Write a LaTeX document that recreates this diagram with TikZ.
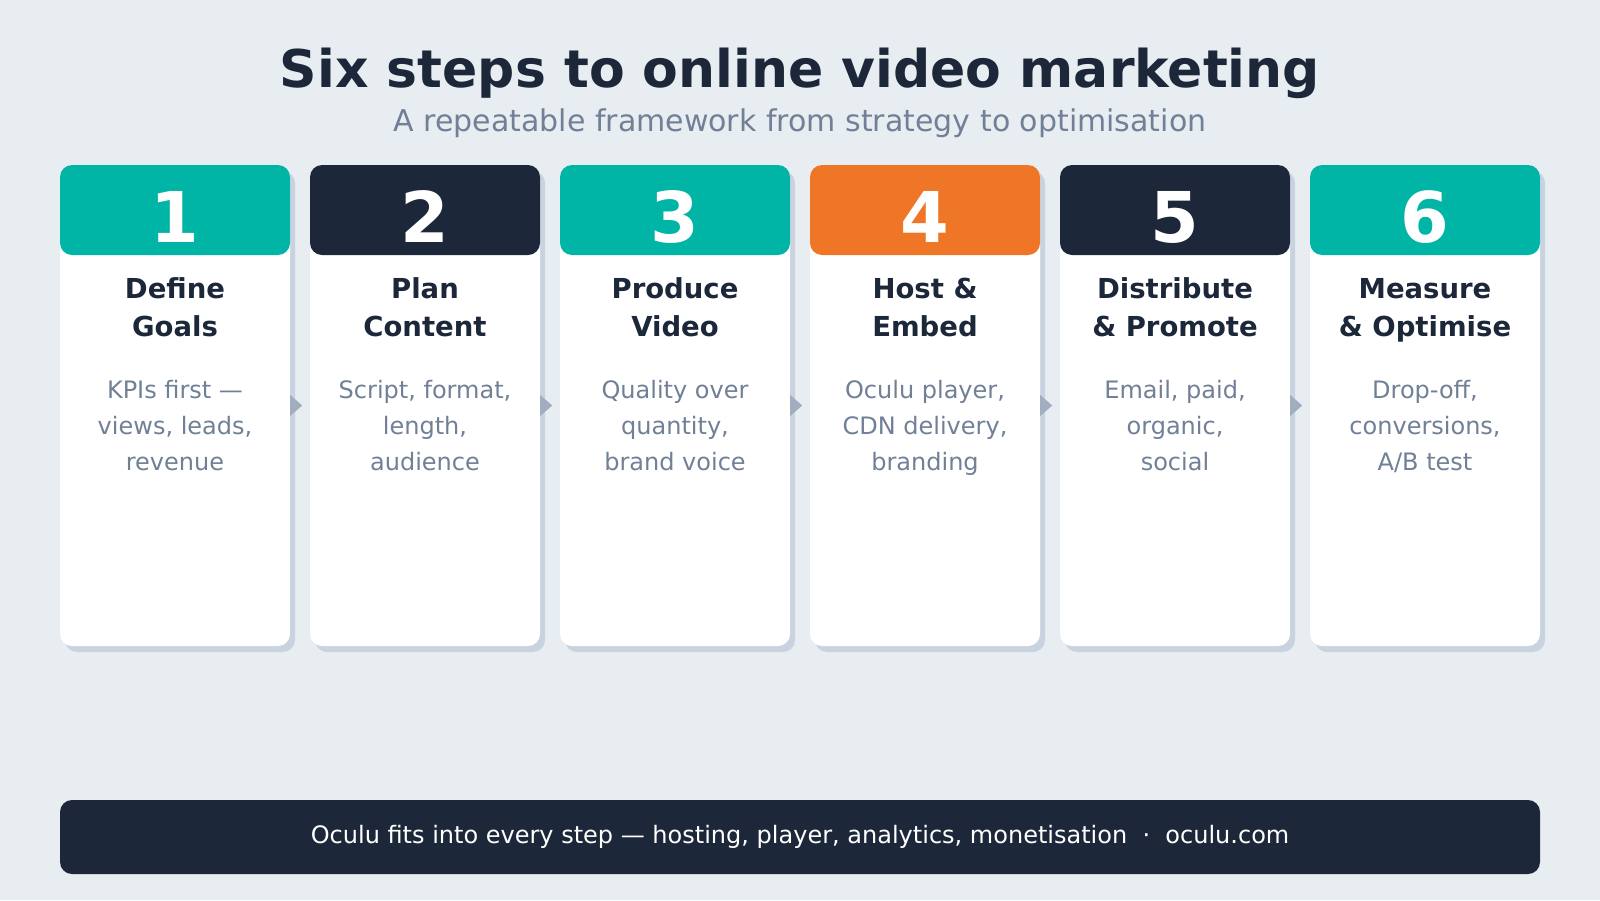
\documentclass[tikz,border=0pt]{standalone}
\usepackage{fontspec}
\setmainfont{DejaVu Sans}
\usetikzlibrary{calc}
\definecolor{bgc}{HTML}{E8EDF2}
\definecolor{navy}{HTML}{1C2839}
\definecolor{tealc}{HTML}{00B5A5}
\definecolor{orangec}{HTML}{F07627}
\definecolor{shadowc}{HTML}{C9D3DF}
\definecolor{descc}{HTML}{718096}
\definecolor{arrowc}{HTML}{A0AEC0}
\tikzset{
  shadowbox/.style={fill=shadowc, rounded corners=12pt, minimum width=230pt, minimum height=481pt, inner sep=0pt, draw=none},
  card/.style={fill=white, rounded corners=12pt, minimum width=230pt, minimum height=481pt, inner sep=0pt, draw=none},
  head/.style={rounded corners=12pt, minimum width=230pt, minimum height=90pt, inner sep=0pt, draw=none},
  numtxt/.style={anchor=base, inner sep=0pt, text=white, font=\fontsize{70}{80}\selectfont\bfseries},
  ttl/.style={anchor=base, inner sep=0pt, text=navy, font=\fontsize{27.5}{32}\selectfont\bfseries},
  dsc/.style={anchor=base, inner sep=0pt, text=descc, font=\fontsize{24}{28}\selectfont},
  flowtri/.style={fill=arrowc},
}
\newcommand\stepcard[8]{%
  \node[shadowbox] (sh#1) at (#2+5,411.5) {};
  \node[card] (card#1) at (#2,405.5) {};
  \node[head, fill=#3] (head#1) at (#2,210) {};
  \node[numtxt] (num#1) at (#2,242) {#1};
  \node[ttl] (ta#1) at (#2,298.5) {#4};
  \node[ttl] (tb#1) at (#2,336.5) {#5};
  \node[dsc] (da#1) at (#2,398) {#6};
  \node[dsc] (db#1) at (#2,434) {#7};
  \node[dsc] (dc#1) at (#2,470) {#8};
}
\begin{document}
\begin{tikzpicture}[x=1pt,y=-1pt]
\useasboundingbox (0,0) rectangle (1600,900);
\fill[bgc] (0,0) rectangle (1600,900);
\node[anchor=base, inner sep=0pt, text=navy, font=\fontsize{52}{60}\selectfont\bfseries] (title) at (800,87) {Six steps to online video marketing};
\node[anchor=base, inner sep=0pt, text=descc, font=\fontsize{30}{34}\selectfont] (subtitle) at (800,131) {A repeatable framework from strategy to optimisation};
\stepcard{1}{175}{tealc}{Define}{Goals}{KPIs first —}{views, leads,}{revenue}
\stepcard{2}{425}{navy}{Plan}{Content}{Script, format,}{length,}{audience}
\stepcard{3}{675}{tealc}{Produce}{Video}{Quality over}{quantity,}{brand voice}
\stepcard{4}{925}{orangec}{Host \&}{Embed}{Oculu player,}{CDN delivery,}{branding}
\stepcard{5}{1175}{navy}{Distribute}{\& Promote}{Email, paid,}{organic,}{social}
\stepcard{6}{1425}{tealc}{Measure}{\& Optimise}{Drop-off,}{conversions,}{A/B test}
\foreach \i in {1,...,5}{
  \fill[flowtri] ($(card\i.east)+(0,-10.5)$) -- ($(card\i.east)+(12,0)$) -- ($(card\i.east)+(0,10.5)$) -- cycle;
}
\node[fill=navy, rounded corners=12pt, minimum width=1480pt, minimum height=74pt, inner sep=0pt] (footer) at (800,837) {};
\node[anchor=base, inner sep=0pt, text=white, font=\fontsize{24}{28}\selectfont] (foottext) at (footer.center |- 0,843) {Oculu fits into every step — hosting, player, analytics, monetisation \ · \ oculu.com};
\end{tikzpicture}
\end{document}
